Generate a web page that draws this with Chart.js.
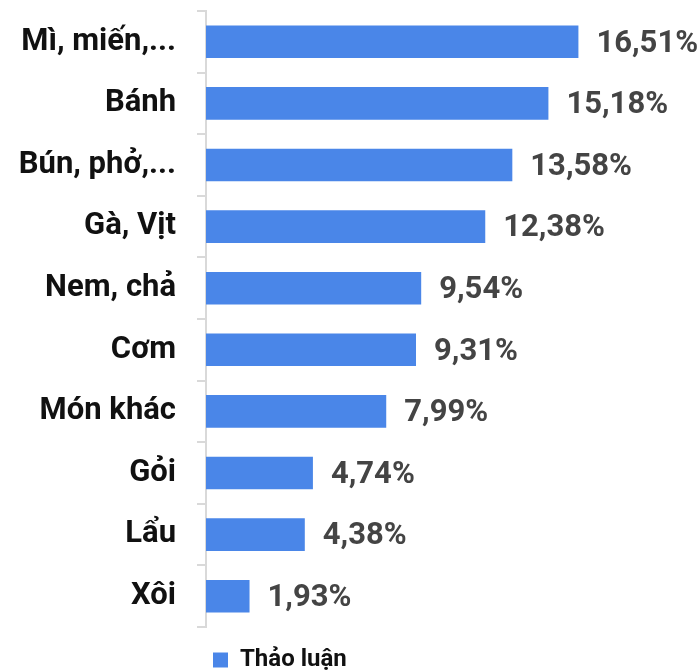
<!DOCTYPE html>
<html>
<head>
<meta charset="utf-8">
<script src="https://cdn.jsdelivr.net/npm/chart.js@4"></script>
<style>
  html, body { margin: 0; padding: 0; background: #fff; }
  #wrap { width: 700px; height: 671px; }
</style>
</head>
<body>
<div id="wrap"><canvas id="chart"></canvas></div>
<script>
const categories = ["Mì, miến,...", "Bánh", "Bún, phở,...", "Gà, Vịt", "Nem, chả", "Cơm", "Món khác", "Gỏi", "Lẩu", "Xôi"];
const values = [16.51, 15.18, 13.58, 12.38, 9.54, 9.31, 7.99, 4.74, 4.38, 1.93];
const seriesName = "Thảo luận";

const fmt = v => v.toFixed(2).replace(".", ",") + "%";

// value labels drawn just right of each bar
const valueLabels = {
  id: "valueLabels",
  afterDatasetsDraw(chart) {
    const ctx = chart.ctx;
    const meta = chart.getDatasetMeta(0);
    ctx.save();
    ctx.font = "bold 31px Roboto";
    ctx.fillStyle = "#444444";
    ctx.textAlign = "left";
    ctx.textBaseline = "middle";
    meta.data.forEach((bar, i) => {
      ctx.fillText(fmt(values[i]), bar.x + 18, bar.y + 2);
    });
    ctx.restore();
  }
};

// legend starts near the axis instead of centred, and sits a bit lower
const legendShift = {
  id: "legendShift",
  afterLayout(chart) {
    const lg = chart.legend;
    const w = lg.right - lg.left;
    lg.left = 203;
    lg.right = 203 + w;
    lg.top += 11;
    lg.bottom += 11;
  }
};

new Chart(document.getElementById("chart"), {
  type: "bar",
  data: {
    labels: categories,
    datasets: [{
      label: seriesName,
      data: values,
      backgroundColor: "#4a86e8",
      borderWidth: 0,
      categoryPercentage: 1,
      barPercentage: 0.53
    }]
  },
  options: {
    indexAxis: "y",
    responsive: true,
    maintainAspectRatio: false,
    animation: false,
    layout: { padding: { top: 11, right: 0, bottom: 0, left: 0 } },
    scales: {
      x: { display: false, min: 0, max: 21.9 },
      y: {
        afterFit(scale) { scale.width = 206; scale.paddingTop = 0; scale.paddingBottom = 0; },
        grid: { drawOnChartArea: false, tickLength: 9, color: "#d9d9d9", lineWidth: 2 },
        border: { color: "#d9d9d9", width: 2 },
        ticks: { padding: 21, color: "#111", font: { family: "Roboto", weight: "bold", size: 31 } }
      }
    },
    plugins: {
      tooltip: { enabled: false },
      legend: {
        position: "bottom",
        align: "start",
        labels: {
          boxWidth: 15, boxHeight: 15, padding: 10, color: "#111",
          font: { family: "Roboto", weight: "bold", size: 24 }
        }
      }
    }
  },
  plugins: [valueLabels, legendShift]
});
</script>
</body>
</html>
